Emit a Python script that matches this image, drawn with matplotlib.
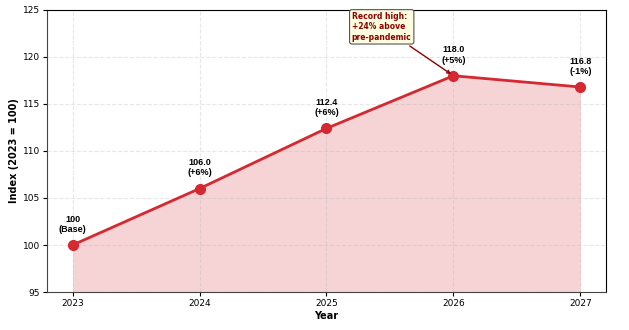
import matplotlib.pyplot as plt
import numpy as np

plt.rcParams["font.family"] = ["DejaVu Sans"]

years = [2023, 2024, 2025, 2026, 2027]
index = [100.0, 106.0, 112.4, 118.0, 116.8]
labels = ["100\n(Base)", "106.0\n(+6%)", "112.4\n(+6%)", "118.0\n(+5%)", "116.8\n(-1%)"]

color = "#d62830"

fig, ax = plt.subplots(figsize=(6.29, 3.30), dpi=100)
ax.fill_between(years, index, 95, color=color, alpha=0.2, linewidth=0)
ax.plot(years, index, color=color, linewidth=2, marker="o", markersize=7)

for x, y, lab in zip(years, index, labels):
    ax.annotate(lab, (x, y), xytext=(0, 8), textcoords="offset points",
                ha="center", va="bottom", fontsize=6.5, fontweight="bold",
                family=["Liberation Sans", "DejaVu Sans"])

ax.annotate("Record high:\n+24% above\npre-pandemic", xy=(2026, 118.0),
            xytext=(2025.2, 123.2), fontsize=5.5, fontweight="bold", color="#8b0000",
            ha="left", va="center",
            bbox=dict(boxstyle="round,pad=0.3", facecolor="#fffde0", edgecolor="#555555", linewidth=0.8),
            arrowprops=dict(arrowstyle="->", color="#8b0000", linewidth=1))

ax.set_ylim(95, 125)
ax.set_xticks(years)
ax.tick_params(labelsize=6.5, pad=2, length=3)
ax.set_xlabel("Year", fontsize=7, fontweight="bold", labelpad=2)
ax.set_ylabel("Index (2023 = 100)", fontsize=7, fontweight="bold", labelpad=3)
ax.grid(True, linestyle="--", alpha=0.3)
for side in ["left", "bottom"]:
    ax.spines[side].set_color("#444444")

fig.subplots_adjust(left=0.075, right=0.963, top=0.97, bottom=0.115)
fig.savefig("out.png", dpi=100)
